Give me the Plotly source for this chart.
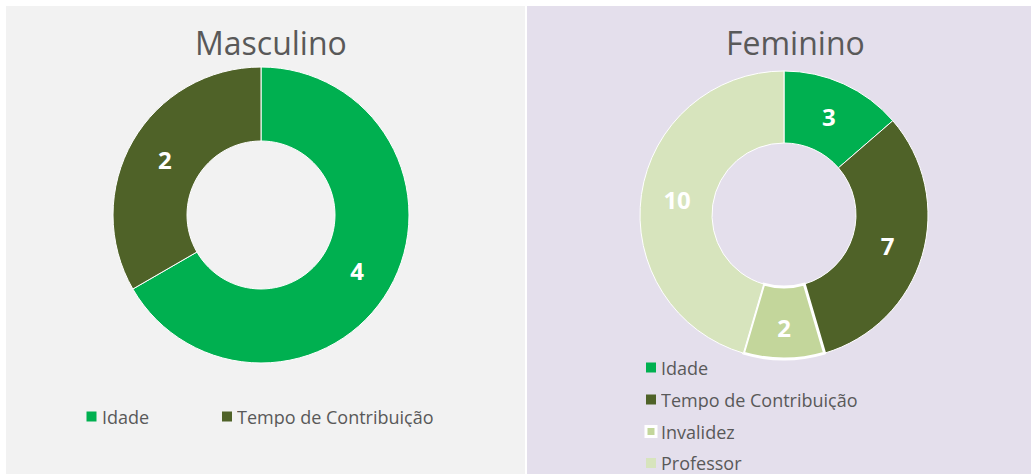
import plotly.graph_objects as go

W, H = 1031, 474

labels_m = ["Idade", "Tempo de Contribuição"]
values_m = [4, 2]
labels_f = ["Idade", "Tempo de Contribuição", "Invalidez", "Professor"]
values_f = [3, 7, 2, 10]
colors = {"Idade": "#00B050", "Tempo de Contribuição": "#4F6228",
          "Invalidez": "#C3D69B", "Professor": "#D7E4BD"}
border_f = [1, 1, 3, 1]

def px_x(v):
    return v / W

def px_y(v):
    return 1 - v / H

fig = go.Figure()

fig.add_trace(go.Pie(
    labels=labels_m, values=values_m, hole=0.5, sort=False, direction="clockwise",
    rotation=0, textinfo="value", textposition="inside",
    insidetextorientation="horizontal",
    textfont=dict(family="Open Sans", size=24, color="white", weight="bold"),
    marker=dict(colors=[colors[l] for l in labels_m], line=dict(color="white", width=1)),
    domain=dict(x=[px_x(113), px_x(409)], y=[px_y(363), px_y(67)]),
    showlegend=False, hoverinfo="label+value",
))

fig.add_trace(go.Pie(
    labels=labels_f, values=values_f, hole=0.5, sort=False, direction="clockwise",
    rotation=0, textinfo="value", textposition="inside",
    insidetextorientation="horizontal",
    textfont=dict(family="Open Sans", size=24, color="white", weight="bold"),
    marker=dict(colors=[colors[l] for l in labels_f],
                line=dict(color="white", width=border_f)),
    domain=dict(x=[px_x(640), px_x(928)], y=[px_y(359), px_y(71)]),
    showlegend=False, hoverinfo="label+value",
))

shapes = [
    dict(type="rect", xref="paper", yref="paper", x0=px_x(6), x1=px_x(525),
         y0=0, y1=px_y(6), fillcolor="#F2F2F2", line=dict(width=0), layer="below"),
    dict(type="rect", xref="paper", yref="paper", x0=px_x(527), x1=1,
         y0=0, y1=px_y(6), fillcolor="#E4DFEC", line=dict(width=0), layer="below"),
]

annotations = [
    dict(text="Masculino", x=px_x(271), y=px_y(42), xref="paper", yref="paper",
         showarrow=False, xanchor="center", yanchor="middle",
         font=dict(family="Open Sans", size=32, color="#595959")),
    dict(text="Feminino", x=px_x(795), y=px_y(42), xref="paper", yref="paper",
         showarrow=False, xanchor="center", yanchor="middle",
         font=dict(family="Open Sans", size=32, color="#595959")),
]

LEG_FONT = dict(family="Open Sans", size=18, color="#595959")

def legend_item(cx, cy, label, bw):
    half = 5
    shapes.append(dict(type="rect", xref="paper", yref="paper",
                       x0=px_x(cx - half), x1=px_x(cx + half),
                       y0=px_y(cy + half), y1=px_y(cy - half),
                       fillcolor=colors[label],
                       line=dict(color="white", width=bw if bw > 1 else 0),
                       layer="above"))
    annotations.append(dict(text=label, x=px_x(cx + 8), y=px_y(cy), xref="paper", yref="paper",
                            showarrow=False, xanchor="left", yanchor="middle",
                            height=20, valign="middle",
                            font=LEG_FONT))

# Masculino legend (horizontal)
for lab, cx in zip(labels_m, [91.5, 227]):
    legend_item(cx, 416.5, lab, 1)

# Feminino legend (vertical)
for lab, cy, bw in zip(labels_f, [367.5, 399.5, 431.5, 463], border_f):
    legend_item(651, cy, lab, bw)

fig.update_layout(
    width=W, height=H,
    margin=dict(l=0, r=0, t=0, b=0),
    paper_bgcolor="white",
    shapes=shapes,
    annotations=annotations,
    showlegend=False,
)

fig.write_html("out.html")
